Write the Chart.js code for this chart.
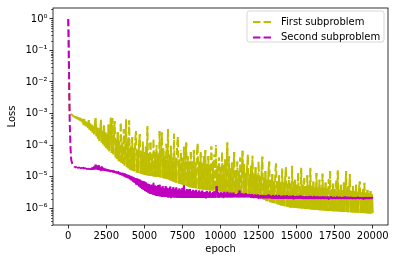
<!DOCTYPE html>
<html>
<head>
<meta charset="utf-8">
<script src="https://cdn.jsdelivr.net/npm/chart.js@4.4.1/dist/chart.umd.min.js"></script>
<style>
html,body{margin:0;padding:0;background:#fff;}
#wrap{position:relative;width:395px;height:262px;}
</style>
</head>
<body>
<div id="wrap"><canvas id="c" width="395" height="262"></canvas></div>
<script>
// ---- data ----
const epochs = [
  0, 25, 50, 75, 100, 150, 200, 300,
  400, 450, 500, 550, 600, 650, 700, 750, 800, 850, 900, 950,
  1000, 1050, 1100, 1150, 1200, 1250, 1300, 1350, 1400, 1450, 1500, 1550, 1600, 1650, 1700, 1750, 1800, 1850, 1900, 1950,
  2000, 2050, 2100, 2150, 2200, 2250, 2300, 2350, 2400, 2450, 2500, 2550, 2600, 2650, 2700, 2750, 2800, 2850, 2900, 2950,
  3000, 3050, 3100, 3150, 3200, 3250, 3300, 3350, 3400, 3450, 3500, 3550, 3600, 3650, 3700, 3750, 3800, 3850, 3900, 3950,
  4000, 4050, 4100, 4150, 4200, 4250, 4300, 4350, 4400, 4450, 4500, 4550, 4600, 4650, 4700, 4750, 4800, 4850, 4900, 4950,
  5000, 5050, 5100, 5150, 5200, 5250, 5300, 5350, 5400, 5450, 5500, 5550, 5600, 5650, 5700, 5750, 5800, 5850, 5900, 5950,
  6000, 6050, 6100, 6150, 6200, 6250, 6300, 6350, 6400, 6450, 6500, 6550, 6600, 6650, 6700, 6750, 6800, 6850, 6900, 6950,
  7000, 7050, 7100, 7150, 7200, 7250, 7300, 7350, 7400, 7450, 7500, 7550, 7600, 7650, 7700, 7750, 7800, 7850, 7900, 7950,
  8000, 8050, 8100, 8150, 8200, 8250, 8300, 8350, 8400, 8450, 8500, 8550, 8600, 8650, 8700, 8750, 8800, 8850, 8900, 8950,
  9000, 9050, 9100, 9150, 9200, 9250, 9300, 9350, 9400, 9450, 9500, 9550, 9600, 9650, 9700, 9750, 9800, 9850, 9900, 9950,
  10000, 10050, 10100, 10150, 10200, 10250, 10300, 10350, 10400, 10450, 10500, 10550, 10600, 10650, 10700, 10750, 10800, 10850, 10900, 10950,
  11000, 11050, 11100, 11150, 11200, 11250, 11300, 11350, 11400, 11450, 11500, 11550, 11600, 11650, 11700, 11750, 11800, 11850, 11900, 11950,
  12000, 12050, 12100, 12150, 12200, 12250, 12300, 12350, 12400, 12450, 12500, 12550, 12600, 12650, 12700, 12750, 12800, 12850, 12900, 12950,
  13000, 13050, 13100, 13150, 13200, 13250, 13300, 13350, 13400, 13450, 13500, 13550, 13600, 13650, 13700, 13750, 13800, 13850, 13900, 13950,
  14000, 14050, 14100, 14150, 14200, 14250, 14300, 14350, 14400, 14450, 14500, 14550, 14600, 14650, 14700, 14750, 14800, 14850, 14900, 14950,
  15000, 15050, 15100, 15150, 15200, 15250, 15300, 15350, 15400, 15450, 15500, 15550, 15600, 15650, 15700, 15750, 15800, 15850, 15900, 15950,
  16000, 16050, 16100, 16150, 16200, 16250, 16300, 16350, 16400, 16450, 16500, 16550, 16600, 16650, 16700, 16750, 16800, 16850, 16900, 16950,
  17000, 17050, 17100, 17150, 17200, 17250, 17300, 17350, 17400, 17450, 17500, 17550, 17600, 17650, 17700, 17750, 17800, 17850, 17900, 17950,
  18000, 18050, 18100, 18150, 18200, 18250, 18300, 18350, 18400, 18450, 18500, 18550, 18600, 18650, 18700, 18750, 18800, 18850, 18900, 18950,
  19000, 19050, 19100, 19150, 19200, 19250, 19300, 19350, 19400, 19450, 19500, 19550, 19600, 19650, 19700, 19750, 19800, 19850, 19900, 19950,
  20000
];

const firstLoss = [
  1.0, 0.15, 0.01, 2.0e-3, 1.05e-3, 1.0e-3, 9.5e-4, 8.6e-4,
  7.7e-4, 8.3e-4, 7.0e-4, 8.0e-4, 6.6e-4, 7.6e-4, 6.2e-4, 7.4e-4, 5.8e-4, 7.0e-4, 5.3e-4, 6.6e-4,
  4.6e-4, 6.8e-4, 4.2e-4, 5.6e-4, 3.9e-4, 5.2e-4, 3.5e-4, 6.2e-4, 3.1e-4, 4.8e-4, 2.8e-4, 4.4e-4, 2.5e-4, 4.0e-4, 2.2e-4, 5.0e-4, 7.1e-4, 1.9e-4, 3.6e-4, 1.6e-4,
  3.4e-4, 1.35e-4, 3.0e-4, 6.0e-4, 1.2e-4, 2.8e-4, 1.05e-4, 4.2e-4, 9.2e-5, 2.5e-4, 8.0e-5, 2.2e-4, 7.2e-5, 4.5e-4, 6.4e-5, 2.0e-4, 7.4e-4, 5.6e-5, 7.2e-4, 5.0e-5,
  1.7e-4, 5.8e-4, 4.0e-5, 1.5e-4, 3.6e-5, 2.6e-4, 3.3e-5, 1.3e-4, 3.0e-5, 4.8e-4, 2.7e-5, 1.2e-4, 2.5e-5, 3.2e-4, 2.2e-5, 1.1e-4, 6.6e-4, 2.0e-5, 1.6e-4, 1.8e-5,
  6.0e-4, 1.65e-5, 9.0e-5, 1.6e-5, 1.8e-4, 1.5e-5, 8.0e-5, 1.45e-5, 1.4e-4, 2.8e-4, 1.35e-5, 7.0e-5, 1.3e-5, 1.1e-4, 2.2e-4, 1.25e-5, 6.5e-5, 1.2e-5, 1.3e-4, 1.15e-5,
  6.0e-5, 1.12e-5, 9.0e-5, 1.1e-5, 4.0e-4, 1.08e-5, 5.5e-5, 1.06e-5, 1.2e-4, 1.04e-5, 5.0e-5, 1.02e-5, 1.6e-4, 1.0e-5, 6.0e-5, 9.9e-6, 1.0e-4, 9.8e-6, 5.0e-5, 9.7e-6,
  2.8e-4, 9.4e-6, 6.0e-5, 2.5e-4, 9.0e-6, 8.0e-5, 8.8e-6, 4.5e-5, 8.5e-6, 1.1e-4, 8.2e-6, 3.2e-4, 7.9e-6, 5.0e-5, 7.6e-6, 9.0e-5, 7.3e-6, 4.0e-5, 7.0e-6, 2.3e-4,
  6.6e-6, 4.0e-5, 6.4e-6, 1.0e-4, 1.8e-4, 6.0e-6, 3.5e-5, 5.8e-6, 7.0e-5, 5.6e-6, 4.0e-5, 5.4e-6, 9.0e-5, 5.2e-6, 3.2e-5, 1.2e-4, 5.0e-6, 4.5e-5, 4.8e-6, 3.0e-5,
  4.6e-6, 6.0e-5, 4.5e-6, 3.0e-5, 4.4e-6, 7.0e-5, 4.3e-6, 2.8e-5, 4.2e-6, 5.0e-5, 1.1e-4, 4.1e-6, 3.0e-5, 4.0e-6, 6.0e-5, 3.95e-6, 2.6e-5, 3.9e-6, 4.5e-5, 3.85e-6,
  7.0e-5, 3.8e-6, 2.5e-5, 3.75e-6, 4.5e-5, 3.7e-6, 2.4e-5, 3.65e-6, 9.0e-5, 3.6e-6, 3.0e-5, 3.55e-6, 5.0e-5, 3.5e-6, 1.0e-4, 3.45e-6, 2.2e-5, 3.4e-6, 4.0e-5, 3.35e-6,
  2.0e-5, 3.3e-6, 6.0e-5, 3.25e-6, 2.2e-5, 3.2e-6, 3.5e-5, 3.15e-6, 2.0e-5, 1.2e-4, 3.1e-6, 4.5e-5, 3.05e-6, 1.8e-5, 3.0e-6, 2.8e-5, 2.98e-6, 1.7e-5, 6.0e-5, 2.95e-6,
  1.6e-5, 2.9e-6, 3.0e-5, 2.85e-6, 1.5e-5, 2.8e-6, 4.0e-5, 2.75e-6, 1.4e-5, 6.6e-5, 2.7e-6, 2.5e-5, 2.65e-6, 1.3e-5, 2.6e-6, 2.2e-5, 5.0e-5, 2.57e-6, 1.2e-5, 2.55e-6,
  2.2e-5, 2.5e-6, 4.6e-5, 2.45e-6, 1.2e-5, 2.4e-6, 2.0e-5, 2.3e-6, 1.1e-5, 2.2e-6, 3.0e-5, 2.1e-6, 1.0e-5, 2.0e-6, 1.6e-5, 4.3e-5, 1.9e-6, 9.0e-6, 1.8e-6, 1.5e-5,
  1.7e-6, 8.0e-6, 1.65e-6, 1.4e-5, 3.0e-5, 1.55e-6, 8.0e-6, 1.5e-6, 1.2e-5, 1.45e-6, 7.0e-6, 1.4e-6, 1.5e-5, 2.6e-5, 1.35e-6, 7.0e-6, 1.3e-6, 1.1e-5, 1.25e-6, 6.5e-6,
  1.2e-6, 1.8e-5, 1.18e-6, 6.5e-6, 1.15e-6, 9.0e-6, 2.0e-5, 1.12e-6, 6.0e-6, 1.08e-6, 1.0e-5, 1.05e-6, 6.0e-6, 1.04e-6, 2.2e-5, 1.03e-6, 6.5e-6, 1.02e-6, 8.0e-6, 1.01e-6,
  5.5e-6, 1.0e-6, 1.3e-5, 9.9e-7, 5.0e-6, 9.8e-7, 1.9e-5, 9.7e-7, 5.5e-6, 9.6e-7, 9.0e-6, 9.5e-7, 5.0e-6, 9.4e-7, 1.1e-5, 9.3e-7, 5.2e-6, 9.2e-7, 1.9e-5, 9.1e-7,
  4.8e-6, 9.0e-7, 7.0e-6, 8.9e-7, 4.5e-6, 8.8e-7, 1.3e-5, 8.7e-7, 4.6e-6, 8.6e-7, 8.0e-6, 8.55e-7, 4.4e-6, 8.5e-7, 1.25e-5, 8.45e-7, 4.5e-6, 8.4e-7, 6.5e-6, 8.3e-7,
  4.2e-6, 8.2e-7, 8.0e-6, 8.15e-7, 1.5e-5, 8.1e-7, 4.0e-6, 8.0e-7, 6.0e-6, 7.95e-7, 4.0e-6, 7.9e-7, 7.5e-6, 7.85e-7, 1.6e-5, 7.8e-7, 3.8e-6, 7.75e-7, 5.5e-6, 7.7e-7,
  3.7e-6, 7.6e-7, 6.5e-6, 7.55e-7, 3.6e-6, 1.5e-5, 7.5e-7, 5.0e-6, 7.45e-7, 3.5e-6, 1.2e-5, 7.4e-7, 3.5e-6, 7.35e-7, 5.0e-6, 7.3e-7, 3.4e-6, 7.25e-7, 5.5e-6, 7.2e-7,
  3.3e-6, 7.1e-7, 4.5e-6, 7.0e-6, 7.05e-7, 3.2e-6, 7.0e-7, 4.0e-6, 6.95e-7, 6.4e-6, 6.9e-7, 3.1e-6, 6.85e-7, 3.8e-6, 6.8e-7, 3.0e-6, 6.8e-7, 3.5e-6, 6.75e-7, 2.8e-6,
  7.0e-7
];

const secondLoss = [
  1.0, 0.25, 0.03, 3.0e-3, 5.0e-4, 8.0e-5, 3.3e-5, 2.3e-5,
  2.1e-5, 1.95e-5, 2.05e-5, 1.9e-5, 2.0e-5, 1.85e-5, 2.0e-5, 1.85e-5, 1.95e-5, 1.8e-5, 1.95e-5, 1.8e-5,
  1.9e-5, 1.75e-5, 1.9e-5, 1.75e-5, 1.85e-5, 1.7e-5, 1.85e-5, 1.7e-5, 1.8e-5, 1.65e-5, 1.8e-5, 1.65e-5, 2.0e-5, 1.65e-5, 2.1e-5, 1.7e-5, 2.4e-5, 1.7e-5, 2.2e-5, 1.65e-5,
  2.3e-5, 1.6e-5, 2.0e-5, 1.6e-5, 2.1e-5, 1.55e-5, 1.9e-5, 1.55e-5, 1.8e-5, 1.5e-5, 1.75e-5, 1.5e-5, 1.7e-5, 1.45e-5, 1.65e-5, 1.4e-5, 1.6e-5, 1.38e-5, 1.6e-5, 1.35e-5,
  1.55e-5, 1.32e-5, 1.5e-5, 1.28e-5, 1.45e-5, 1.22e-5, 1.4e-5, 1.18e-5, 1.35e-5, 1.12e-5, 1.32e-5, 1.08e-5, 1.3e-5, 1.02e-5, 1.25e-5, 9.6e-6, 1.2e-5, 9.2e-6, 1.15e-5, 8.8e-6,
  1.1e-5, 8.2e-6, 1.05e-5, 7.6e-6, 1.0e-5, 7.0e-6, 9.5e-6, 6.4e-6, 9.0e-6, 5.9e-6, 8.8e-6, 5.4e-6, 8.5e-6, 4.9e-6, 8.0e-6, 4.5e-6, 7.5e-6, 4.1e-6, 7.2e-6, 3.8e-6,
  7.0e-6, 3.5e-6, 6.5e-6, 3.3e-6, 6.0e-6, 3.1e-6, 5.8e-6, 2.9e-6, 5.5e-6, 2.8e-6, 5.5e-6, 2.7e-6, 6.0e-6, 2.6e-6, 5.2e-6, 2.5e-6, 5.0e-6, 2.45e-6, 5.4e-6, 2.4e-6,
  5.5e-6, 2.35e-6, 4.5e-6, 2.3e-6, 5.0e-6, 2.3e-6, 4.2e-6, 2.25e-6, 5.0e-6, 2.25e-6, 4.4e-6, 2.2e-6, 4.2e-6, 2.2e-6, 4.8e-6, 2.2e-6, 4.0e-6, 2.2e-6, 4.6e-6, 2.2e-6,
  4.0e-6, 2.15e-6, 4.5e-6, 2.15e-6, 3.8e-6, 2.15e-6, 4.2e-6, 2.1e-6, 3.8e-6, 2.1e-6, 4.4e-6, 2.1e-6, 5.2e-6, 2.1e-6, 3.6e-6, 2.1e-6, 4.0e-6, 2.1e-6, 3.7e-6, 2.1e-6,
  4.0e-6, 2.1e-6, 3.4e-6, 2.1e-6, 3.8e-6, 2.1e-6, 3.5e-6, 2.1e-6, 3.8e-6, 2.1e-6, 3.2e-6, 2.1e-6, 3.6e-6, 2.1e-6, 3.3e-6, 2.1e-6, 3.6e-6, 2.1e-6, 3.2e-6, 2.1e-6,
  3.2e-6, 2.15e-6, 3.5e-6, 2.15e-6, 3.1e-6, 2.15e-6, 3.4e-6, 2.15e-6, 3.0e-6, 2.15e-6, 3.3e-6, 2.15e-6, 3.4e-6, 2.15e-6, 3.1e-6, 5.0e-6, 2.15e-6, 3.2e-6, 2.15e-6, 3.0e-6,
  2.2e-6, 3.2e-6, 2.2e-6, 3.0e-6, 2.2e-6, 3.3e-6, 2.2e-6, 2.9e-6, 2.2e-6, 3.3e-6, 2.2e-6, 2.9e-6, 2.2e-6, 3.1e-6, 2.2e-6, 2.9e-6, 2.2e-6, 3.1e-6, 2.2e-6, 2.8e-6,
  2.2e-6, 2.8e-6, 2.2e-6, 3.0e-6, 2.2e-6, 3.6e-6, 2.2e-6, 2.8e-6, 2.2e-6, 2.9e-6, 2.2e-6, 2.7e-6, 2.2e-6, 3.0e-6, 2.2e-6, 2.7e-6, 2.2e-6, 2.8e-6, 2.2e-6, 2.7e-6,
  2.15e-6, 2.8e-6, 2.1e-6, 2.6e-6, 2.1e-6, 2.7e-6, 2.1e-6, 2.6e-6, 2.1e-6, 2.7e-6, 2.1e-6, 2.5e-6, 2.05e-6, 2.6e-6, 2.05e-6, 2.5e-6, 2.05e-6, 2.6e-6, 2.05e-6, 2.5e-6,
  2.05e-6, 2.5e-6, 2.05e-6, 2.7e-6, 2.05e-6, 2.5e-6, 2.05e-6, 2.45e-6, 2.0e-6, 2.6e-6, 2.0e-6, 2.45e-6, 2.0e-6, 2.5e-6, 2.0e-6, 2.45e-6, 2.0e-6, 2.6e-6, 2.0e-6, 2.4e-6,
  2.0e-6, 2.45e-6, 2.0e-6, 2.5e-6, 2.0e-6, 2.4e-6, 2.0e-6, 2.55e-6, 2.0e-6, 2.4e-6, 2.0e-6, 2.45e-6, 2.0e-6, 2.4e-6, 2.0e-6, 2.5e-6, 2.0e-6, 2.4e-6, 2.0e-6, 2.35e-6,
  2.0e-6, 2.45e-6, 2.0e-6, 2.35e-6, 2.0e-6, 2.5e-6, 2.0e-6, 2.35e-6, 1.95e-6, 2.4e-6, 1.95e-6, 2.35e-6, 1.95e-6, 2.4e-6, 1.95e-6, 2.3e-6, 1.95e-6, 2.45e-6, 1.95e-6, 2.3e-6,
  1.95e-6, 2.3e-6, 1.95e-6, 2.45e-6, 1.95e-6, 2.3e-6, 1.95e-6, 2.4e-6, 1.95e-6, 2.3e-6, 1.95e-6, 2.35e-6, 1.95e-6, 2.3e-6, 1.95e-6, 2.4e-6, 1.95e-6, 2.3e-6, 1.95e-6, 2.3e-6,
  1.95e-6, 2.35e-6, 1.95e-6, 2.25e-6, 1.95e-6, 2.4e-6, 1.95e-6, 2.25e-6, 1.95e-6, 2.3e-6, 1.95e-6, 2.25e-6, 1.95e-6, 2.35e-6, 1.95e-6, 2.25e-6, 1.95e-6, 2.3e-6, 1.95e-6, 2.25e-6,
  1.95e-6, 2.25e-6, 1.95e-6, 2.35e-6, 1.95e-6, 2.2e-6, 1.95e-6, 2.3e-6, 1.95e-6, 2.2e-6, 1.95e-6, 2.3e-6, 1.95e-6, 2.2e-6, 1.95e-6, 2.25e-6, 1.95e-6, 2.2e-6, 1.95e-6, 2.25e-6,
  1.95e-6, 2.3e-6, 1.95e-6, 2.2e-6, 1.95e-6, 2.25e-6, 1.95e-6, 2.2e-6, 1.95e-6, 2.25e-6, 1.95e-6, 2.2e-6, 1.95e-6, 2.25e-6, 1.95e-6, 2.2e-6, 1.95e-6, 2.25e-6, 1.95e-6, 2.2e-6,
  2.1e-6
];

const seriesLabels = ['First subproblem', 'Second subproblem'];
const xTickValues = [0, 2500, 5000, 7500, 10000, 12500, 15000, 17500, 20000];
const xTickLabels = ['0', '2500', '5000', '7500', '10000', '12500', '15000', '17500', '20000'];
const yTickValues = [1e-6, 1e-5, 1e-4, 1e-3, 1e-2, 1e-1, 1];
const yTickLabels = ['10\u207B\u2076', '10\u207B\u2075', '10\u207B\u2074', '10\u207B\u00B3', '10\u207B\u00B2', '10\u207B\u00B9', '10\u2070'];

// ---- styling ----
const FONT = 'DejaVu Sans';
const COL1 = '#bfbf00';
const COL2 = '#bf00bf';
const DASH = [7.4, 3.2];
const DASH_PERIOD = 10.6;

Chart.defaults.font.family = FONT;
Chart.defaults.font.size = 10;
Chart.defaults.color = '#000';

// The original holds ~20000 points, so its dense noisy band reads as a solid
// mass; only the tallest strokes keep a visible dash. Short noisy segments
// are drawn solid, long ones dashed with an irregular phase.
const segDash = (ctx) => {
  const i = ctx.p0DataIndex;
  if (i < 8) return DASH;
  return Math.abs(ctx.p1.y - ctx.p0.y) > 30 ? DASH : [];
};
const segPhase = (ctx) => {
  const i = ctx.p0DataIndex;
  if (i < 8) return 0;
  const h = (i * i * 7 + i * 3) % 23;
  return (h / 23) * DASH_PERIOD + 0.01;
};

const framePlugin = {
  id: 'frame',
  afterDraw(chart) {
    const ctx = chart.ctx, a = chart.chartArea, ys = chart.scales.y;
    ctx.save();
    ctx.strokeStyle = '#000';
    ctx.lineWidth = 0.6;
    for (let k = -7; k <= 0; k++) {
      for (let m = 2; m <= 9; m++) {
        const v = m * Math.pow(10, k);
        if (v < ys.min || v > ys.max) continue;
        const py = Math.round(ys.getPixelForValue(v)) + 0.5;
        ctx.beginPath();
        ctx.moveTo(a.left - 2, py);
        ctx.lineTo(a.left, py);
        ctx.stroke();
      }
    }
    ctx.lineWidth = 0.8;
    ctx.strokeRect(a.left, a.top, a.right - a.left, a.bottom - a.top);

    const lx = a.right - 141, ly = a.top + 3, lw = 137, lh = 31;
    ctx.beginPath();
    const r = 2.5;
    ctx.moveTo(lx + r, ly);
    ctx.lineTo(lx + lw - r, ly);
    ctx.quadraticCurveTo(lx + lw, ly, lx + lw, ly + r);
    ctx.lineTo(lx + lw, ly + lh - r);
    ctx.quadraticCurveTo(lx + lw, ly + lh, lx + lw - r, ly + lh);
    ctx.lineTo(lx + r, ly + lh);
    ctx.quadraticCurveTo(lx, ly + lh, lx, ly + lh - r);
    ctx.lineTo(lx, ly + r);
    ctx.quadraticCurveTo(lx, ly, lx + r, ly);
    ctx.closePath();
    ctx.fillStyle = 'rgba(255,255,255,0.8)';
    ctx.fill();
    ctx.strokeStyle = '#cccccc';
    ctx.lineWidth = 0.8;
    ctx.stroke();
    const cols = [COL1, COL2];
    ctx.font = '10px "' + FONT + '"';
    ctx.textBaseline = 'middle';
    ctx.textAlign = 'left';
    seriesLabels.forEach((lab, i) => {
      const yy = ly + 11 + i * 15.5;
      ctx.strokeStyle = cols[i];
      ctx.lineWidth = 2;
      ctx.setLineDash(DASH);
      ctx.beginPath();
      ctx.moveTo(lx + 6, yy);
      ctx.lineTo(lx + 26, yy);
      ctx.stroke();
      ctx.setLineDash([]);
      ctx.fillStyle = '#000';
      ctx.fillText(lab, lx + 34, yy);
    });
    ctx.restore();
  }
};

const mk = (vals) => epochs.map((x, i) => ({ x: x, y: vals[i] }));

new Chart(document.getElementById('c'), {
  type: 'line',
  data: {
    datasets: [
      { label: seriesLabels[0], data: mk(firstLoss), borderColor: COL1, backgroundColor: COL1,
        borderWidth: 2, borderDash: DASH, borderJoinStyle: 'round', borderCapStyle: 'butt',
        segment: { borderDash: segDash, borderDashOffset: segPhase },
        pointRadius: 0, tension: 0, fill: false, order: 1 },
      { label: seriesLabels[1], data: mk(secondLoss), borderColor: COL2, backgroundColor: COL2,
        borderWidth: 2, borderDash: DASH, borderJoinStyle: 'round', borderCapStyle: 'butt',
        segment: { borderDash: segDash, borderDashOffset: segPhase },
        pointRadius: 0, tension: 0, fill: false, order: 0 }
    ]
  },
  options: {
    responsive: false,
    animation: false,
    devicePixelRatio: 1,
    layout: { padding: { left: 0, right: 7, top: 6, bottom: 0 } },
    plugins: { legend: { display: false }, tooltip: { enabled: false } },
    scales: {
      x: {
        type: 'linear', min: -1000, max: 21000,
        afterBuildTicks: (s) => { s.ticks = xTickValues.map(v => ({ value: v })); },
        afterFit: (s) => { s.height = 37; },
        ticks: { callback: (v, i) => xTickLabels[i], padding: 2, maxRotation: 0, autoSkip: false, color: '#000' },
        grid: { display: true, drawOnChartArea: false, drawTicks: true, tickLength: 3.5, tickColor: '#000', tickWidth: 0.8 },
        border: { display: false },
        title: { display: true, text: 'epoch', color: '#000', padding: { top: 0, bottom: 7 } }
      },
      y: {
        type: 'logarithmic', min: 2.92e-7, max: 2.22,
        afterBuildTicks: (s) => { s.ticks = yTickValues.map(v => ({ value: v })); },
        afterFit: (s) => { s.width = 53; },
        ticks: { callback: (v, i) => yTickLabels[i], padding: 2, autoSkip: false, color: '#000' },
        grid: { display: true, drawOnChartArea: false, drawTicks: true, tickLength: 3.5, tickColor: '#000', tickWidth: 0.8 },
        border: { display: false },
        title: { display: true, text: 'Loss', color: '#000', padding: { top: 6, bottom: 0 } }
      }
    }
  },
  plugins: [framePlugin]
});
</script>
</body>
</html>
